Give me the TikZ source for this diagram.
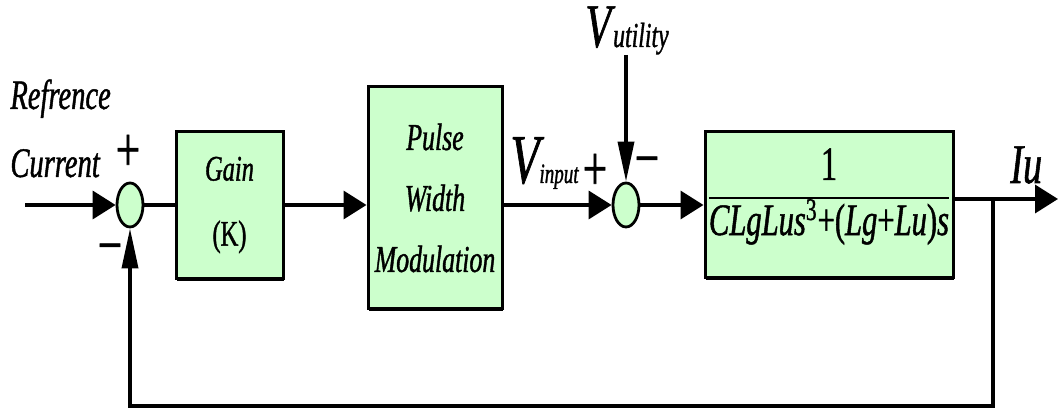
\documentclass[tikz,border=0pt]{standalone}
\usepackage{fontspec}
\setmainfont{Liberation Serif}[FakeStretch=0.68, FakeBold=1]
\usetikzlibrary{arrows.meta,shapes.geometric,shadows}
\definecolor{blockgreen}{HTML}{CCFFCC}
\setlength{\arrayrulewidth}{1.1pt}
\newcommand{\fsz}[1]{\fontsize{#1}{#1}\selectfont}
\tikzset{
  block/.style={draw, line width=1.5pt, fill=blockgreen, align=center, inner sep=0pt,
    drop shadow={shadow xshift=0.3pt, shadow yshift=-1.2pt, opacity=1, fill=black}},
  sumnode/.style={ellipse, draw, line width=1.4pt, fill=blockgreen,
    minimum width=13pt, minimum height=22pt, inner sep=0pt},
  wire/.style={line width=1.8pt},
  harrow/.style={wire, -{Triangle[length=11.5pt, width=14pt]}},
  varrow/.style={wire, -{Triangle[length=20pt, width=8pt]}},
  lbl/.style={inner sep=0pt, anchor=base west},
  sign/.style={inner sep=0pt, font=\fsz{32}}
}
\begin{document}
\begin{tikzpicture}[x=0.5pt, y=-0.5pt]
  \useasboundingbox (0,0) rectangle (1060,410);
  % 1. blocks
  \node[sumnode] (sum1) at (130,205) {};
  \node[block, minimum width=53.5pt, minimum height=73.5pt,
        font=\fontsize{18}{32.5}\selectfont] (gain) at (229.5,205) {\itshape Gain\\(K)};
  \node[block, minimum width=67pt, minimum height=111pt,
        font=\fontsize{19}{30.5}\selectfont\itshape] (pwm) at (435,198) {Pulse\\Width\\Modulation};
  \node[sumnode] (sum2) at (626,205) {};
  \node[block, minimum width=124pt, minimum height=73pt] (plant) at (829,205)
    {\begin{tabular}{@{}c@{}}\rule[-8.5pt]{0pt}{25pt}\fsz{24}1\\\hline
     \rule[-14pt]{0pt}{23pt}\fsz{22.5}\itshape CLgLus\textsuperscript{\upshape 3}\upshape+(\itshape Lg\upshape+\itshape Lu\upshape)\itshape s\end{tabular}};

  % 2. labels
  \node[lbl, font=\fsz{21}\itshape] (ref) at (10,109) {Refrence};
  \node[lbl, font=\fsz{21}\itshape] (cur) at (10,177) {Current};
  \node[sign] (p1) at (128,153) {+};
  \node[sign] (m1) at (110,255) {−};
  \node[lbl] (vin) at (510,183) {\fsz{35}\itshape V\fsz{14}\itshape input};
  \node[sign] (p2) at (595,172) {+};
  \node[lbl] (vutil) at (585,47) {\fsz{31}\itshape V\kern1pt\fsz{17.5}\itshape utility};
  \node[sign] (m2) at (647,168) {−};
  \node[lbl, font=\fsz{28}\itshape] (iu) at (1010,183) {Iu};

  % 3. connectors
  \coordinate (in) at (25,205);
  \coordinate (iuout) at (1058,199);
  \coordinate (branch) at (993,199);
  \coordinate (fbcorner) at (130,406);
  \draw[harrow] (in) -- (sum1);
  \draw[wire] (sum1) -- (gain);
  \draw[harrow] (gain.east) -- (gain.east -| pwm.west);
  \draw[harrow] (pwm.east |- sum2) -- (sum2);
  \draw[varrow] (vutil.south -| sum2.north) -- (sum2.north);
  \draw[harrow] (sum2) -- (plant);
  \draw[harrow] (plant.east |- iuout) -- (iuout);
  \draw[varrow] (branch) |- (fbcorner) -- (sum1.south);
\end{tikzpicture}
\end{document}
